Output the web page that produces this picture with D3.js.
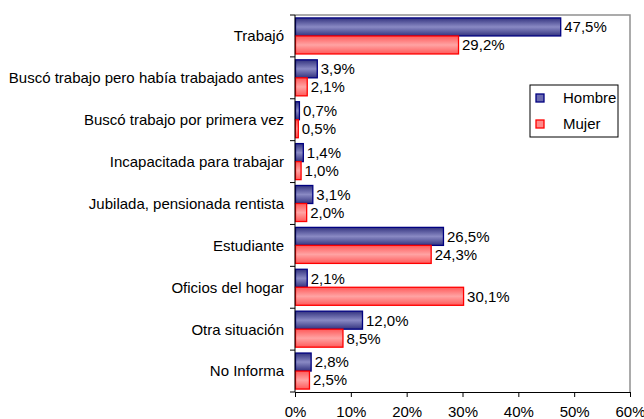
<!DOCTYPE html>
<html>
<head>
<meta charset="utf-8">
<script src="https://cdn.jsdelivr.net/npm/d3@7"></script>
<style>
  body { margin: 0; background: #fff; }
  svg { display: block; font-family: "Liberation Sans", Arial, sans-serif; }
</style>
</head>
<body>
<div id="chart"></div>
<script>
const categories = ["Trabajó", "Buscó trabajo pero había trabajado antes", "Buscó trabajo por primera vez",
  "Incapacitada para trabajar", "Jubilada, pensionada rentista", "Estudiante", "Oficios del hogar",
  "Otra situación", "No Informa"];
const hombre = [47.5, 3.9, 0.7, 1.4, 3.1, 26.5, 2.1, 12.0, 2.8];
const mujer = [29.2, 2.1, 0.5, 1.0, 2.0, 24.3, 30.1, 8.5, 2.5];
const seriesNames = ["Hombre", "Mujer"];
const xTicks = [0, 10, 20, 30, 40, 50, 60];

const W = 644, H = 419;
const FS = 15;
const margin = {top: 15, right: 14, bottom: 27, left: 295};
const iw = 630 - margin.left, ih = 392 - margin.top;

const svg = d3.select("#chart").append("svg").attr("width", W).attr("height", H);

const defs = svg.append("defs");
function grad(id, edge, mid) {
  const g = defs.append("linearGradient").attr("id", id).attr("x1", 0).attr("y1", 0).attr("x2", 0).attr("y2", 1);
  g.append("stop").attr("offset", "0%").attr("stop-color", edge);
  g.append("stop").attr("offset", "50%").attr("stop-color", mid);
  g.append("stop").attr("offset", "100%").attr("stop-color", edge);
}
grad("gH", "#33337f", "#8a8ac4");
grad("gM", "#ff5a5a", "#ffa3a3");

const colors = {Hombre: {fill: "url(#gH)", stroke: "#000080", sw: "#6b6bb0"}, Mujer: {fill: "url(#gM)", stroke: "#ff0000", sw: "#ff8a8a"}};

const g = svg.append("g").attr("transform", `translate(${margin.left},${margin.top})`);

const x = d3.scaleLinear().domain([0, 60]).range([0, iw]);
const y = d3.scaleBand().domain(categories).range([0, ih]).paddingInner(0.14).paddingOuter(0.07);
const ys = d3.scaleBand().domain(seriesNames).range([0, y.bandwidth()]);

// plot border (grey top/right)
g.append("path").attr("d", `M0,0H${iw}V${ih}`).attr("fill", "none").attr("stroke", "#909090").attr("stroke-width", 1.5);

const rows = categories.map((c, i) => ({c, vals: [{s: "Hombre", v: hombre[i]}, {s: "Mujer", v: mujer[i]}]}));

const grp = g.selectAll(".cat").data(rows).join("g").attr("transform", d => `translate(0,${y(d.c)})`);
grp.selectAll("rect").data(d => d.vals).join("rect")
  .attr("x", 0.5)
  .attr("y", d => ys(d.s))
  .attr("width", d => x(d.v))
  .attr("height", ys.bandwidth())
  .attr("fill", d => colors[d.s].fill)
  .attr("stroke", d => colors[d.s].stroke)
  .attr("stroke-width", 1.3);
grp.selectAll("text").data(d => d.vals).join("text")
  .attr("x", d => x(d.v) + 4)
  .attr("y", d => ys(d.s) + ys.bandwidth() / 2)
  .attr("dy", "0.36em")
  .attr("font-size", FS)
  .attr("fill", "#000")
  .text(d => d.v.toFixed(1).replace(".", ",") + "%");

// y axis with ticks at category boundaries
const yAxis = g.append("g");
yAxis.append("line").attr("x1", 0).attr("x2", 0).attr("y1", 0).attr("y2", ih).attr("stroke", "#000");
const step = ih / categories.length;
d3.range(categories.length + 1).forEach(i => {
  yAxis.append("line").attr("x1", -5).attr("x2", 0).attr("y1", i * step).attr("y2", i * step).attr("stroke", "#000");
});
yAxis.selectAll("text").data(categories).join("text")
  .attr("x", -11)
  .attr("y", d => y(d) + y.bandwidth() / 2)
  .attr("dy", "0.36em")
  .attr("text-anchor", "end")
  .attr("font-size", FS)
  .text(d => d);

// x axis (the 60% label is cut at the right edge, as in the original)
const xAxis = g.append("g").attr("transform", `translate(0,${ih})`)
  .call(d3.axisBottom(x).tickValues(xTicks).tickSize(5).tickFormat(d => d + "%"));
xAxis.select(".domain").attr("stroke", "#000");
xAxis.selectAll("line").attr("stroke", "#000");
xAxis.selectAll("text").attr("font-size", FS).attr("font-family", "Liberation Sans, Arial, sans-serif").attr("y", 14).attr("fill", "#000");

// legend
const lg = svg.append("g").attr("transform", "translate(530,85)");
lg.append("rect").attr("width", 88).attr("height", 52).attr("fill", "#fff").attr("stroke", "#000");
seriesNames.forEach((s, i) => {
  const yy = 13 + i * 26;
  lg.append("rect").attr("x", 6).attr("y", yy - 4).attr("width", 8).attr("height", 8)
    .attr("fill", colors[s].sw).attr("stroke", colors[s].stroke).attr("stroke-width", 1.3);
  lg.append("text").attr("x", 33).attr("y", yy).attr("dy", "0.36em").attr("font-size", FS).text(s);
});
</script>
</body>
</html>
